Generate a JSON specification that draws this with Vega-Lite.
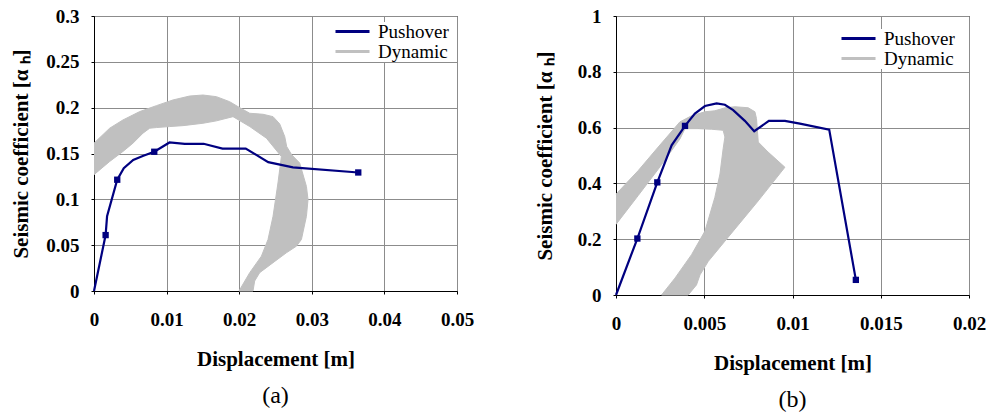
{
  "$schema": "https://vega.github.io/schema/vega-lite/v6.json",
  "background": "white",
  "padding": {"left": 10, "top": 6, "right": 0, "bottom": 0},
  "datasets": {
    "push_a": [
      {"d": 0, "c": 0, "series": "Pushover"},
      {"d": 0.0016, "c": 0.061, "series": "Pushover"},
      {"d": 0.0018, "c": 0.0815, "series": "Pushover"},
      {"d": 0.0032, "c": 0.1214, "series": "Pushover"},
      {"d": 0.0041, "c": 0.134, "series": "Pushover"},
      {"d": 0.0054, "c": 0.143, "series": "Pushover"},
      {"d": 0.0068, "c": 0.1475, "series": "Pushover"},
      {"d": 0.0083, "c": 0.1519, "series": "Pushover"},
      {"d": 0.0104, "c": 0.162, "series": "Pushover"},
      {"d": 0.0125, "c": 0.1606, "series": "Pushover"},
      {"d": 0.0151, "c": 0.1606, "series": "Pushover"},
      {"d": 0.0177, "c": 0.1554, "series": "Pushover"},
      {"d": 0.0209, "c": 0.1554, "series": "Pushover"},
      {"d": 0.024, "c": 0.1406, "series": "Pushover"},
      {"d": 0.0274, "c": 0.1348, "series": "Pushover"},
      {"d": 0.0364, "c": 0.1293, "series": "Pushover"}
    ],
    "steps_a": [
      {"d": 0.0016, "c": 0.061},
      {"d": 0.0032, "c": 0.1214},
      {"d": 0.0083, "c": 0.1519},
      {"d": 0.0364, "c": 0.1293}
    ],
    "dyn_a": [
      {"d": 0, "c": 0.1613, "series": "Dynamic"},
      {"d": 0.00216, "c": 0.1776, "series": "Dynamic"},
      {"d": 0.00399, "c": 0.1866, "series": "Dynamic"},
      {"d": 0.00629, "c": 0.1957, "series": "Dynamic"},
      {"d": 0.0086, "c": 0.2022, "series": "Dynamic"},
      {"d": 0.01088, "c": 0.2084, "series": "Dynamic"},
      {"d": 0.01318, "c": 0.2127, "series": "Dynamic"},
      {"d": 0.01501, "c": 0.2138, "series": "Dynamic"},
      {"d": 0.01686, "c": 0.212, "series": "Dynamic"},
      {"d": 0.01869, "c": 0.2065, "series": "Dynamic"},
      {"d": 0.02007, "c": 0.2, "series": "Dynamic"},
      {"d": 0.02145, "c": 0.1939, "series": "Dynamic"},
      {"d": 0.02328, "c": 0.1928, "series": "Dynamic"},
      {"d": 0.02466, "c": 0.1902, "series": "Dynamic"},
      {"d": 0.02558, "c": 0.1823, "series": "Dynamic"},
      {"d": 0.02627, "c": 0.1685, "series": "Dynamic"},
      {"d": 0.02654, "c": 0.1576, "series": "Dynamic"},
      {"d": 0.02723, "c": 0.1486, "series": "Dynamic"},
      {"d": 0.02833, "c": 0.1396, "series": "Dynamic"},
      {"d": 0.02926, "c": 0.1141, "series": "Dynamic"},
      {"d": 0.02948, "c": 0.0997, "series": "Dynamic"},
      {"d": 0.02926, "c": 0.0815, "series": "Dynamic"},
      {"d": 0.02857, "c": 0.0562, "series": "Dynamic"},
      {"d": 0.02788, "c": 0.0489, "series": "Dynamic"},
      {"d": 0.0265, "c": 0.0417, "series": "Dynamic"},
      {"d": 0.02466, "c": 0.0309, "series": "Dynamic"},
      {"d": 0.02282, "c": 0.02, "series": "Dynamic"},
      {"d": 0.02213, "c": 0.0109, "series": "Dynamic"},
      {"d": 0.0219, "c": 0, "series": "Dynamic"},
      {"d": 0.01997, "c": 0, "series": "Dynamic"},
      {"d": 0.02145, "c": 0.02, "series": "Dynamic"},
      {"d": 0.02306, "c": 0.038, "series": "Dynamic"},
      {"d": 0.02397, "c": 0.0562, "series": "Dynamic"},
      {"d": 0.02466, "c": 0.0815, "series": "Dynamic"},
      {"d": 0.02534, "c": 0.1178, "series": "Dynamic"},
      {"d": 0.02581, "c": 0.1467, "series": "Dynamic"},
      {"d": 0.02375, "c": 0.1667, "series": "Dynamic"},
      {"d": 0.02145, "c": 0.1794, "series": "Dynamic"},
      {"d": 0.01915, "c": 0.1902, "series": "Dynamic"},
      {"d": 0.01686, "c": 0.1856, "series": "Dynamic"},
      {"d": 0.01501, "c": 0.183, "series": "Dynamic"},
      {"d": 0.01226, "c": 0.1804, "series": "Dynamic"},
      {"d": 0.01043, "c": 0.1794, "series": "Dynamic"},
      {"d": 0.0086, "c": 0.1783, "series": "Dynamic"},
      {"d": 0.00767, "c": 0.1776, "series": "Dynamic"},
      {"d": 0.00675, "c": 0.1722, "series": "Dynamic"},
      {"d": 0.00537, "c": 0.1613, "series": "Dynamic"},
      {"d": 0.00399, "c": 0.1522, "series": "Dynamic"},
      {"d": 0.00216, "c": 0.1413, "series": "Dynamic"},
      {"d": 0, "c": 0.1269, "series": "Dynamic"}
    ],
    "push_b": [
      {"d": 0, "c": 0, "series": "Pushover"},
      {"d": 0.00121, "c": 0.2024, "series": "Pushover"},
      {"d": 0.00234, "c": 0.4037, "series": "Pushover"},
      {"d": 0.00315, "c": 0.5363, "series": "Pushover"},
      {"d": 0.00391, "c": 0.6061, "series": "Pushover"},
      {"d": 0.00447, "c": 0.6505, "series": "Pushover"},
      {"d": 0.00504, "c": 0.6773, "series": "Pushover"},
      {"d": 0.0057, "c": 0.6867, "series": "Pushover"},
      {"d": 0.00617, "c": 0.682, "series": "Pushover"},
      {"d": 0.00664, "c": 0.6628, "series": "Pushover"},
      {"d": 0.0073, "c": 0.6241, "series": "Pushover"},
      {"d": 0.00783, "c": 0.5869, "series": "Pushover"},
      {"d": 0.00866, "c": 0.6241, "series": "Pushover"},
      {"d": 0.00957, "c": 0.6241, "series": "Pushover"},
      {"d": 0.01042, "c": 0.6144, "series": "Pushover"},
      {"d": 0.01208, "c": 0.5927, "series": "Pushover"},
      {"d": 0.01359, "c": 0.0542, "series": "Pushover"}
    ],
    "steps_b": [
      {"d": 0.00121, "c": 0.2024},
      {"d": 0.00234, "c": 0.4037},
      {"d": 0.00391, "c": 0.6061},
      {"d": 0.01359, "c": 0.0542}
    ],
    "dyn_b": [
      {"d": 0, "c": 0.3614, "series": "Dynamic"},
      {"d": 0.00126, "c": 0.446, "series": "Dynamic"},
      {"d": 0.00239, "c": 0.5302, "series": "Dynamic"},
      {"d": 0.00362, "c": 0.6205, "series": "Dynamic"},
      {"d": 0.00428, "c": 0.6422, "series": "Dynamic"},
      {"d": 0.00504, "c": 0.6567, "series": "Dynamic"},
      {"d": 0.0056, "c": 0.6603, "series": "Dynamic"},
      {"d": 0.00619, "c": 0.6711, "series": "Dynamic"},
      {"d": 0.00674, "c": 0.6747, "series": "Dynamic"},
      {"d": 0.00749, "c": 0.6711, "series": "Dynamic"},
      {"d": 0.00787, "c": 0.6567, "series": "Dynamic"},
      {"d": 0.00796, "c": 0.6325, "series": "Dynamic"},
      {"d": 0.00806, "c": 0.5482, "series": "Dynamic"},
      {"d": 0.00862, "c": 0.5121, "series": "Dynamic"},
      {"d": 0.00957, "c": 0.4579, "series": "Dynamic"},
      {"d": 0.00806, "c": 0.3375, "series": "Dynamic"},
      {"d": 0.00617, "c": 0.193, "series": "Dynamic"},
      {"d": 0.00523, "c": 0.1207, "series": "Dynamic"},
      {"d": 0.00476, "c": 0.0723, "series": "Dynamic"},
      {"d": 0.00456, "c": 0.0361, "series": "Dynamic"},
      {"d": 0.00409, "c": 0, "series": "Dynamic"},
      {"d": 0.00258, "c": 0, "series": "Dynamic"},
      {"d": 0.00334, "c": 0.0604, "series": "Dynamic"},
      {"d": 0.00428, "c": 0.1446, "series": "Dynamic"},
      {"d": 0.00504, "c": 0.2291, "series": "Dynamic"},
      {"d": 0.0056, "c": 0.3495, "series": "Dynamic"},
      {"d": 0.00589, "c": 0.4337, "series": "Dynamic"},
      {"d": 0.00607, "c": 0.524, "series": "Dynamic"},
      {"d": 0.00617, "c": 0.5663, "series": "Dynamic"},
      {"d": 0.00607, "c": 0.5905, "series": "Dynamic"},
      {"d": 0.00541, "c": 0.5941, "series": "Dynamic"},
      {"d": 0.00466, "c": 0.5963, "series": "Dynamic"},
      {"d": 0.00391, "c": 0.5963, "series": "Dynamic"},
      {"d": 0.00362, "c": 0.5591, "series": "Dynamic"},
      {"d": 0.00239, "c": 0.4507, "series": "Dynamic"},
      {"d": 0.00126, "c": 0.3567, "series": "Dynamic"},
      {"d": 0, "c": 0.253, "series": "Dynamic"}
    ]
  },
  "config": {
    "font": "Liberation Serif",
    "view": {"stroke": "black", "strokeWidth": 1},
    "axis": {
      "labelFont": "Liberation Serif", "labelFontWeight": "bold", "labelFontSize": 19, "labelColor": "black",
      "titleFont": "Liberation Serif", "titleFontWeight": "bold", "titleFontSize": 21, "titleColor": "black",
      "domainColor": "black", "tickColor": "black", "tickSize": 3,
      "gridColor": "#8c8c8c", "gridWidth": 1, "gridOpacity": 1,
      "labelFlush": false, "labelOverlap": false, "format": "~g"
    },
    "axisX": {"labelPadding": 16, "titlePadding": 19},
    "axisY": {"labelPadding": 12, "titlePadding": 14},
    "legend": {
      "orient": "none", "title": null,
      "symbolType": "M-1,0H4.67", "symbolSize": 144, "symbolStrokeWidth": 3,
      "labelFont": "Liberation Serif", "labelFontSize": 19, "labelColor": "black",
      "labelOffset": 27, "fillColor": "white", "padding": 0, "rowPadding": -1
    },
    "concat": {"spacing": 58},
    "title": {"font": "Liberation Serif", "fontSize": 24, "fontWeight": "normal", "color": "black", "orient": "bottom", "offset": 15}
  },
  "hconcat": [
    {
      "width": 363, "height": 275,
      "title": {"text": "(a)"},
      "layer": [
        {
          "data": {"name": "dyn_a"},
          "mark": {"type": "line", "fill": "#c0c0c0", "strokeWidth": 1},
          "encoding": {
            "x": {"field": "d", "type": "quantitative", "scale": {"domain": [0, 0.05], "nice": false},
                  "axis": {"values": [0, 0.01, 0.02, 0.03, 0.04, 0.05], "title": "Displacement [m]"}},
            "y": {"field": "c", "type": "quantitative", "scale": {"domain": [0, 0.3], "nice": false},
                  "axis": {"values": [0, 0.05, 0.1, 0.15, 0.2, 0.25, 0.3], "title": "Seismic coefficient [α ₕ]"}},
            "order": {"value": null},
            "color": {"field": "series", "type": "nominal",
                      "scale": {"domain": ["Pushover", "Dynamic"], "range": ["#000080", "#c0c0c0"]},
                      "legend": {"legendX": 238, "legendY": 6}}
          }
        },
        {
          "data": {"name": "push_a"},
          "mark": {"type": "line", "strokeWidth": 2.2},
          "encoding": {
            "x": {"field": "d", "type": "quantitative"},
            "y": {"field": "c", "type": "quantitative"},
            "order": {"value": null},
            "color": {"field": "series", "type": "nominal"}
          }
        },
        {
          "data": {"name": "steps_a"},
          "mark": {"type": "square", "size": 40, "color": "#000080", "opacity": 1, "filled": true},
          "encoding": {
            "x": {"field": "d", "type": "quantitative"},
            "y": {"field": "c", "type": "quantitative"}
          }
        }
      ]
    },
    {
      "width": 353, "height": 279,
      "title": {"text": "(b)"},
      "layer": [
        {
          "data": {"name": "dyn_b"},
          "mark": {"type": "line", "fill": "#c0c0c0", "strokeWidth": 1},
          "encoding": {
            "x": {"field": "d", "type": "quantitative", "scale": {"domain": [0, 0.02], "nice": false},
                  "axis": {"values": [0, 0.005, 0.01, 0.015, 0.02], "title": "Displacement [m]"}},
            "y": {"field": "c", "type": "quantitative", "scale": {"domain": [0, 1], "nice": false},
                  "axis": {"values": [0, 0.2, 0.4, 0.6, 0.8, 1], "title": "Seismic coefficient [α ₕ]", "titlePadding": 22}},
            "order": {"value": null},
            "color": {"field": "series", "type": "nominal",
                      "scale": {"domain": ["Pushover", "Dynamic"], "range": ["#000080", "#c0c0c0"]},
                      "legend": {"legendX": 222, "legendY": 13}}
          }
        },
        {
          "data": {"name": "push_b"},
          "mark": {"type": "line", "strokeWidth": 2.2},
          "encoding": {
            "x": {"field": "d", "type": "quantitative"},
            "y": {"field": "c", "type": "quantitative"},
            "order": {"value": null},
            "color": {"field": "series", "type": "nominal"}
          }
        },
        {
          "data": {"name": "steps_b"},
          "mark": {"type": "square", "size": 40, "color": "#000080", "opacity": 1, "filled": true},
          "encoding": {
            "x": {"field": "d", "type": "quantitative"},
            "y": {"field": "c", "type": "quantitative"}
          }
        }
      ]
    }
  ],
  "resolve": {"scale": {"color": "independent", "x": "independent", "y": "independent"}, "legend": {"color": "independent"}}
}
